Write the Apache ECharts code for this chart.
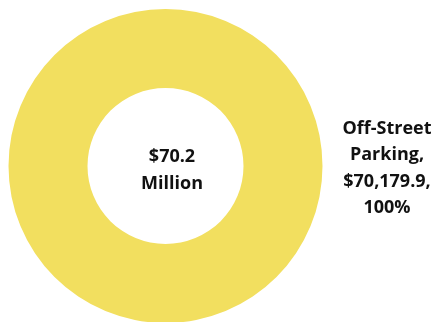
<!DOCTYPE html>
<html>
<head>
<meta charset="utf-8">
<script src="https://cdn.jsdelivr.net/npm/echarts@6/dist/echarts.min.js"></script>
<style>
  html, body { margin: 0; padding: 0; background: #ffffff; }
  #chart { width: 437px; height: 322px; }
</style>
</head>
<body>
<div id="chart"></div>
<script>
// Revenue by category (thousands of dollars)
var categories = ['Off-Street Parking'];
var values = [70179.9];
var colors = ['#F2DF5F'];

var total = values.reduce(function (a, b) { return a + b; }, 0);
var FONT = '"Open Sans", "Noto Sans", sans-serif';

function fmtThousands(v) {
  return v.toLocaleString('en-US', { minimumFractionDigits: 1, maximumFractionDigits: 1 });
}

var chart = echarts.init(document.getElementById('chart'), null, { renderer: 'canvas' });

chart.setOption({
  animation: false,
  backgroundColor: '#ffffff',
  title: {
    text: '$' + (total / 1000).toFixed(1) + '\nMillion',
    left: 167,
    top: 138,
    textAlign: 'center',
    textStyle: {
      fontFamily: FONT,
      fontWeight: 'bold',
      fontSize: 18,
      lineHeight: 27,
      color: '#111111'
    }
  },
  series: [{
    type: 'pie',
    center: [165.5, 166],
    radius: [78, 157],
    startAngle: 180,
    clockwise: true,
    silent: true,
    avoidLabelOverlap: false,
    data: categories.map(function (name, i) {
      return { name: name, value: values[i], itemStyle: { color: colors[i] } };
    }),
    label: {
      show: true,
      position: 'outside',
      alignTo: 'none',
      bleedMargin: 0,
      distanceToLabelLine: 5,
      overflow: 'none',
      padding: [5, 0, 0, 0],
      formatter: function (p) {
        var parts = p.name.split(' ');
        var pct = Math.round(p.value / total * 100);
        var lines = [parts[0], parts.slice(1).join(' ') + ',', '$' + fmtThousands(p.value) + ',', pct + '%'];
        return lines.map(function (l) { return '{a|' + l + '}'; }).join('\n');
      },
      rich: {
        a: {
          width: 100,
          align: 'center',
          fontFamily: FONT,
          fontWeight: 'bold',
          fontSize: 18,
          lineHeight: 26.5,
          color: '#111111'
        }
      }
    },
    labelLine: { show: false, length: 5, length2: 4.5 }
  }]
});
</script>
</body>
</html>
